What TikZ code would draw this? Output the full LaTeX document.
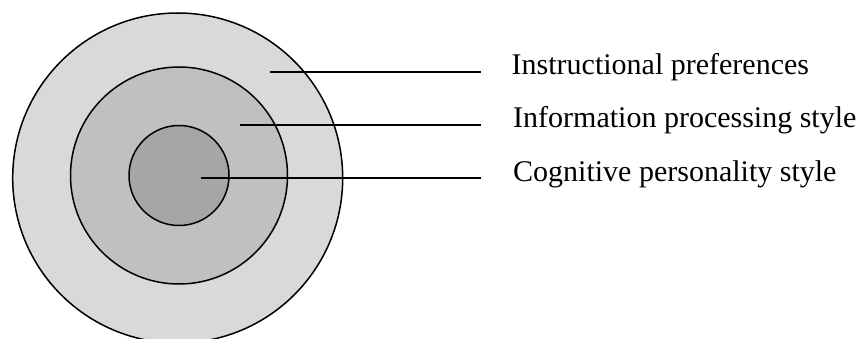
\documentclass[tikz,border=0pt]{standalone}
\usepackage{fontspec}
\setmainfont{Liberation Serif}
\begin{document}
\begin{tikzpicture}[x=1pt,y=-1pt,
  ring/.style={draw=black,line width=1.5pt},
  leader/.style={draw=black,line width=1.7pt},
  label/.style={anchor=base west,inner sep=0pt,font=\fontsize{30}{36}\selectfont}]
  \useasboundingbox (0,0) rectangle (862,339);
  % nested layers
  \begin{scope}
    \clip (0,0) rectangle (862,339);
    \fill[ring,fill={rgb,255:red,217;green,217;blue,217}] (177.7,178) circle[radius=165];
  \end{scope}
  \fill[ring,fill={rgb,255:red,192;green,192;blue,192}] (179,175.5) circle[radius=108.5];
  \fill[ring,fill={rgb,255:red,166;green,166;blue,166}] (179,175.5) circle[radius=50];
  % leader line ends
  \coordinate (a1) at (270.3,72);
  \coordinate (b1) at (480.7,72);
  \coordinate (a2) at (240.3,125);
  \coordinate (b2) at (480.7,125);
  \coordinate (a3) at (200.7,178);
  \coordinate (b3) at (480.7,178);
  \draw[leader] (a1) -- (b1);
  \draw[leader] (a2) -- (b2);
  \draw[leader] (a3) -- (b3);
  % layer names
  \node[label] (t1) at (511.5,74.5) {Instructional preferences};
  \node[label] (t2) at (513,127.5) {Information processing style};
  \node[label] (t3) at (513,182) {Cognitive personality style};
\end{tikzpicture}
\end{document}
